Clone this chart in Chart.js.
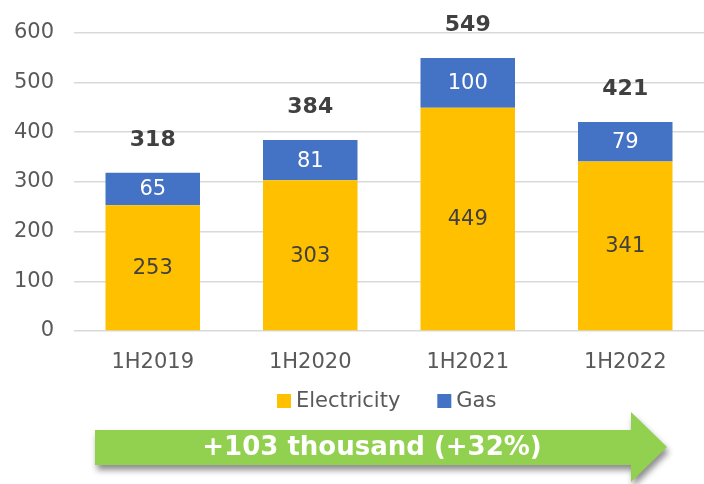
<!DOCTYPE html>
<html>
<head>
<meta charset="utf-8">
<script src="https://cdn.jsdelivr.net/npm/chart.js@4.4.1/dist/chart.umd.min.js"></script>
<style>
  html, body { margin: 0; padding: 0; background: #fff; }
  #wrap { width: 704px; height: 484px; }
</style>
</head>
<body>
<div id="wrap"><canvas id="chart"></canvas></div>
<script>
const categories = ['1H2019', '1H2020', '1H2021', '1H2022'];
const electricity = [253, 303, 449, 341];
const gas = [65, 81, 100, 79];
const totals = [318, 384, 549, 421];
const yTicks = [0, 100, 200, 300, 400, 500, 600];
const arrowText = '+103 thousand (+32%)';

const FONT = '"DejaVu Sans", Verdana, sans-serif';

// labels inside the bars, totals above, legend and the green arrow
const extras = {
    id: 'extras',
    afterDatasetsDraw(chart) {
        const ctx = chart.ctx;
        ctx.save();
        ctx.textAlign = 'center';
        ctx.textBaseline = 'middle';
        ctx.font = '21px ' + FONT;
        chart.data.datasets.forEach((ds, i) => {
            const meta = chart.getDatasetMeta(i);
            meta.data.forEach((bar, j) => {
                ctx.fillStyle = i === 0 ? '#404040' : '#ffffff';
                ctx.fillText(ds.data[j], bar.x, (bar.y + bar.base) / 2 + 1);
            });
        });
        const top = chart.getDatasetMeta(1);
        ctx.font = 'bold 22px ' + FONT;
        ctx.fillStyle = '#404040';
        top.data.forEach((bar, j) => {
            ctx.fillText(totals[j], bar.x, bar.y - 33);
        });

        // legend
        ctx.font = '21px ' + FONT;
        ctx.textAlign = 'left';
        const items = chart.data.datasets;
        let lx = 277;
        const ly = 401;
        items.forEach(ds => {
            ctx.fillStyle = ds.backgroundColor;
            ctx.fillRect(lx, ly - 7, 14, 14);
            ctx.fillStyle = '#595959';
            ctx.fillText(ds.label, lx + 19, ly + 1);
            lx += 19 + ctx.measureText(ds.label).width + 37;
        });

        // arrow
        ctx.save();
        ctx.shadowColor = 'rgba(0,0,0,0.45)';
        ctx.shadowBlur = 6;
        ctx.shadowOffsetX = 2;
        ctx.shadowOffsetY = 5;
        ctx.fillStyle = '#92D050';
        ctx.beginPath();
        ctx.moveTo(95, 430);
        ctx.lineTo(631, 430);
        ctx.lineTo(631, 412);
        ctx.lineTo(667, 447);
        ctx.lineTo(631, 482);
        ctx.lineTo(631, 465);
        ctx.lineTo(95, 465);
        ctx.closePath();
        ctx.fill();
        ctx.restore();
        ctx.font = 'bold 26px ' + FONT;
        ctx.textAlign = 'center';
        ctx.fillStyle = '#ffffff';
        ctx.fillText(arrowText, 372, 448);
        ctx.restore();
    }
};

new Chart(document.getElementById('chart'), {
    type: 'bar',
    data: {
        labels: categories,
        datasets: [
            {
                label: 'Electricity',
                data: electricity,
                backgroundColor: '#FFC000',
                barPercentage: 0.6,
                categoryPercentage: 1
            },
            {
                label: 'Gas',
                data: gas,
                backgroundColor: '#4472C4',
                barPercentage: 0.6,
                categoryPercentage: 1
            }
        ]
    },
    options: {
        responsive: true,
        maintainAspectRatio: false,
        animation: false,
        layout: { padding: { top: 31, right: 0, left: 0, bottom: 103 } },
        plugins: {
            legend: { display: false },
            tooltip: { enabled: false }
        },
        scales: {
            x: {
                stacked: true,
                grid: { display: false },
                border: { display: false },
                ticks: { color: '#595959', font: { family: FONT, size: 21 }, padding: 11 },
                afterFit: (s) => { s.height = 50; }
            },
            y: {
                stacked: true,
                min: 0,
                max: 600,
                afterBuildTicks: (s) => { s.ticks = yTicks.map(v => ({ value: v })); },
                grid: { color: '#d9d9d9', lineWidth: 1.5, drawTicks: false },
                border: { display: false },
                ticks: { color: '#595959', font: { family: FONT, size: 21 }, padding: 20 },
                afterFit: (s) => { s.width = 74; }
            }
        }
    },
    plugins: [extras]
});
</script>
</body>
</html>
